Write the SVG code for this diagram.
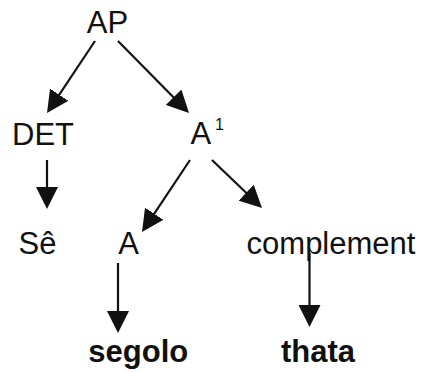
<svg xmlns="http://www.w3.org/2000/svg" width="422" height="372" viewBox="0 0 422 372">
<style>
.t{font-family:"Liberation Sans",Arial,sans-serif;font-size:31px;fill:#111;text-anchor:middle}
.b{font-weight:bold}
.sup{font-family:"Liberation Sans",Arial,sans-serif;font-size:16px;fill:#111}
.c line{stroke:#111;stroke-width:2.2;marker-end:url(#ah)}
</style>
<defs>
<marker id="ah" markerUnits="userSpaceOnUse" markerWidth="22" markerHeight="22" refX="17" refY="11" orient="auto" viewBox="0 0 22 22">
<path d="M0,0 L22,11 L0,22 z" fill="#111"/>
</marker>
</defs>
<rect width="422" height="372" fill="#fff"/>
<g id="connectors" class="c">
<line x1="95" y1="41" x2="49.8" y2="108.8"/>
<line x1="118" y1="41" x2="185.5" y2="109.4"/>
<line x1="47" y1="160" x2="47" y2="204"/>
<line x1="190" y1="160" x2="144.8" y2="227.8"/>
<line x1="212" y1="160" x2="258.4" y2="204.5"/>
<line x1="118" y1="263" x2="118" y2="328"/>
<line x1="309.5" y1="253" x2="309.5" y2="322"/>
</g>
<g id="AP"><text class="t" x="107.5" y="33">AP</text></g>
<g id="DET"><text class="t" x="43" y="145">DET</text></g>
<g id="A1"><text class="t" x="190.5" y="144" style="text-anchor:start">A</text><text class="sup" x="215" y="130">1</text></g>
<g id="Se"><text class="t" x="37.5" y="254">Sê</text></g>
<g id="A"><text class="t" x="128.5" y="254">A</text></g>
<g id="complement"><text class="t" x="331" y="254">complement</text></g>
<g id="segolo"><text class="t b" x="138.3" y="362">segolo</text></g>
<g id="thata"><text class="t b" x="318" y="362">thata</text></g>
</svg>
